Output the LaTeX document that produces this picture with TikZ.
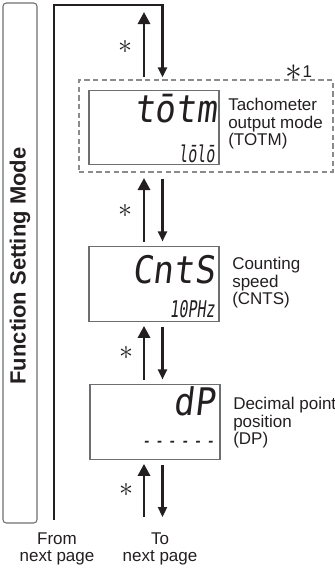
\documentclass[tikz,border=0pt]{standalone}
\usepackage{fontspec}
\setmainfont{Liberation Sans}
\newfontfamily\lcdbigfont{DejaVu Sans Mono}[FakeSlant=0.12,FakeStretch=0.9]
\newfontfamily\lcdsmallfont{DejaVu Sans Mono}[FakeSlant=0.12,FakeStretch=0.65]
\usetikzlibrary{arrows.meta}
\definecolor{ink}{HTML}{231F20}
\definecolor{frame}{HTML}{6D6E71}
\newcommand{\keystar}{\scalebox{2.1}{$\ast$}}

\begin{document}
\begin{tikzpicture}[x=0.75pt,y=-0.75pt,
  every node/.style={text=ink},
  lbl/.style={anchor=west,align=left,inner sep=0pt,font=\fontsize{12.75pt}{13.1pt}\selectfont},
  disp/.style={draw=frame,line width=0.8pt,minimum width=97.5pt,minimum height=56pt,inner sep=0pt},
  lcdbig/.style={anchor=base east,inner sep=0pt,font=\lcdbigfont\fontsize{28.5pt}{28.5pt}\selectfont},
  lcdsmall/.style={anchor=base east,inner sep=0pt,font=\lcdsmallfont\fontsize{17.25pt}{17.25pt}\selectfont},
  star/.style={inner sep=0pt,text=ink},
  uparr/.style={draw=ink,line width=2.2pt,-{Triangle[length=9pt,width=9pt]}},
  dnarr/.style={draw=ink,line width=1.7pt,-{Triangle[length=7.5pt,width=6.75pt]}},
  loopln/.style={draw=ink,line width=1.8pt,line join=miter}]
\useasboundingbox (0,0) rectangle (335,568);
% mode frame
\node[draw=frame,line width=0.8pt,rounded corners=2.5pt,minimum width=25.5pt,minimum height=390pt] (modebox) at (20,263) {};
\node[rotate=90,font=\bfseries\fontsize{16.5pt}{17pt}\selectfont] (title) at (20,266) {Function Setting Mode};
% group and displays
\node[draw=frame!80,line width=1pt,dash pattern=on 4pt off 2.5pt,minimum width=190.5pt,minimum height=69pt] (grp) at (206,126) {};
\node[lbl,anchor=center] (grpnote) at (299,73) {\raisebox{-2.5pt}{\keystar}1};
\node[disp] (totm) at (154,127.5) {};
\node[disp] (cnts) at (154,284) {};
\node[disp] (dp) at (155,422) {};
\node[lcdbig] (totmA) at (217,122) {tōtm};
\node[lcdsmall] (totmB) at (215,162) {lōlō};
\node[lcdbig] (cntsA) at (215,283) {CntS};
\node[lcdsmall] (cntsB) at (215,317) {10PHz};
\node[lcdbig] (dpA) at (215,415) {dP};
\node[lcdsmall,anchor=mid east] (dpB) at (215,445) {-\,-\,-\,-\,-\,-};
% labels
\node[lbl] (totmL) at (228,124) {Tachometer\\output mode\\(TOTM)};
\node[lbl] (cntsL) at (232,283) {Counting\\speed\\(CNTS)};
\node[lbl] (dpL) at (233,423) {Decimal point\\position\\(DP)};
% columns of the arrows
\coordinate (colU) at (144,0);
\coordinate (colD) at (162.5,0);
\coordinate (topend) at (144,12);
\coordinate (ltop) at (54,5);
\coordinate (lbot) at (54,520);
\coordinate (exitU) at (144,517);
\coordinate (exitD) at (162.5,517);
% loop back from next page
\draw[loopln,-{Triangle[length=7.5pt,width=6.75pt]},shorten >=1.5pt] (lbot) -- (ltop) -| (colD |- grp.north);
\draw[uparr,shorten <=1.5pt] (colU |- grp.north) -- (topend);
\draw[uparr,shorten <=3pt,shorten >=4pt] (colU |- cnts.north) -- (colU |- grp.south);
\draw[dnarr,shorten <=4.5pt,shorten >=3.5pt] (colD |- grp.south) -- (colD |- cnts.north);
\draw[uparr,shorten <=3pt,shorten >=3pt] (colU |- dp.north) -- (colU |- cnts.south);
\draw[dnarr,shorten <=3.5pt,shorten >=3.5pt] (colD |- cnts.south) -- (colD |- dp.north);
\draw[uparr,shorten >=3pt] (exitU) -- (colU |- dp.south);
\draw[dnarr,shorten <=3.5pt] (colD |- dp.south) -- (exitD);
% keys
\node[star] (s1) at (125,47) {\keystar};
\node[star] (s2) at (125,211) {\keystar};
\node[star] (s3) at (126,353) {\keystar};
\node[star] (s4) at (126,490) {\keystar};
% page links
\node[align=center,inner sep=0pt,font=\fontsize{12.75pt}{13.1pt}\selectfont] (from) at (57,549) {From\\next page};
\node[align=center,inner sep=0pt,font=\fontsize{12.75pt}{13.1pt}\selectfont] (to) at (160,549) {To\\next page};
\end{tikzpicture}
\end{document}
